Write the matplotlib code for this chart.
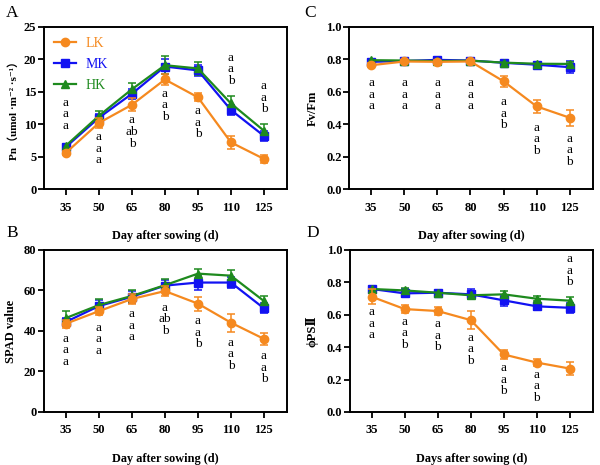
import matplotlib
matplotlib.use("Agg")
import matplotlib.pyplot as plt
from matplotlib.lines import Line2D
import numpy as np

days = [35, 50, 65, 80, 95, 110, 125]
treatments = ["LK", "MK", "HK"]
colors = {"LK": "#F5891F", "MK": "#1212F2", "HK": "#1E8A1E"}
markers = {"LK": "o", "MK": "s", "HK": "^"}

# Panel A: Pn
pn_LK = [5.6, 10.2, 13.0, 16.9, 14.15, 7.2, 4.65]
pn_MK = [6.5, 11.0, 14.7, 18.9, 18.3, 12.2, 8.2]
pn_HK = [6.7, 11.3, 15.4, 19.1, 18.6, 13.2, 9.0]
pn_LK_err = [0.3, 0.8, 1.0, 0.8, 0.6, 1.0, 0.6]
pn_MK_err = [0.3, 0.5, 0.8, 1.2, 0.8, 0.8, 0.8]
pn_HK_err = [0.3, 0.8, 1.0, 1.4, 1.0, 1.2, 1.0]
pn_letters = ["a\na\na", "a\na\na", "a\nab\nb", "a\na\nb", "a\na\nb", "a\na\nb", "a\na\nb"]
pn_letter_y = [11.5, 6.2, 8.8, 12.9, 10.2, 18.5, 14.1]

# Panel C: Fv/Fm
fv_LK = [0.764, 0.787, 0.785, 0.787, 0.665, 0.51, 0.44]
fv_MK = [0.785, 0.790, 0.797, 0.793, 0.779, 0.767, 0.752]
fv_HK = [0.795, 0.793, 0.790, 0.792, 0.780, 0.773, 0.772]
fv_LK_err = [0.012, 0.012, 0.012, 0.01, 0.035, 0.04, 0.05]
fv_MK_err = [0.012, 0.012, 0.015, 0.01, 0.012, 0.012, 0.035]
fv_HK_err = [0.008, 0.008, 0.008, 0.008, 0.008, 0.008, 0.01]
fv_letters = ["a\na\na", "a\na\na", "a\na\na", "a\na\na", "a\na\nb", "a\na\nb", "a\na\nb"]
fv_letter_y = [0.583, 0.583, 0.583, 0.583, 0.465, 0.308, 0.24]

# Panel B: SPAD
spad_LK = [43.6, 49.8, 55.8, 59.7, 53.5, 44.1, 36.1]
spad_MK = [44.5, 52.3, 56.9, 62.4, 63.9, 63.9, 51.2]
spad_HK = [46.4, 52.8, 57.3, 62.6, 68.3, 67.3, 54.8]
spad_LK_err = [2.0, 2.0, 2.5, 2.5, 3.5, 4.5, 3.0]
spad_MK_err = [2.0, 3.0, 3.0, 3.0, 3.5, 2.5, 2.5]
spad_HK_err = [3.5, 3.0, 3.0, 3.0, 2.5, 3.0, 2.5]
spad_letters = ["a\na\na", "a\na\na", "a\na\na", "a\nab\nb", "a\na\nb", "a\na\nb", "a\na\nb"]
spad_letter_y = [30.5, 36.0, 42.6, 45.7, 39.1, 28.5, 21.9]

# Panel D: phi PSII
ps_LK = [0.711, 0.635, 0.623, 0.567, 0.355, 0.305, 0.268]
ps_MK = [0.759, 0.732, 0.736, 0.726, 0.689, 0.652, 0.643]
ps_HK = [0.759, 0.750, 0.736, 0.720, 0.726, 0.699, 0.687]
ps_LK_err = [0.045, 0.025, 0.025, 0.055, 0.03, 0.02, 0.04]
ps_MK_err = [0.01, 0.025, 0.01, 0.03, 0.035, 0.02, 0.03]
ps_HK_err = [0.01, 0.015, 0.01, 0.015, 0.02, 0.015, 0.02]
ps_letters = ["a\na\na", "a\na\nb", "a\na\nb", "a\na\nb", "a\na\nb", "a\na\nb", "a\na\nb"]
ps_letter_y = [0.546, 0.485, 0.47, 0.386, 0.2, 0.16, 0.872]

SERIF = ["Liberation Serif", "DejaVu Serif", "Noto Sans CJK SC"]
plt.rcParams["font.family"] = SERIF

fig = plt.figure(figsize=(6.0, 4.65), dpi=100)

def msize(t):
    return 6 if t != "HK" else 5.5

def make_panel(rect, series, errs, letters, letter_y, ylim, yticks, ylabel,
               ylabel_x, xlabel, xlabel_y, fmt, legend=False, ylabel_size=9):
    ax = fig.add_axes(rect)
    for t, vals, err in zip(treatments, series, errs):
        ax.errorbar(days, vals, yerr=err, color=colors[t], marker=markers[t],
                    markersize=msize(t), lw=1.6, capsize=2.8,
                    elinewidth=1.1, capthick=1.1, label=t, zorder=3 if t == "LK" else 2)
    for d, s, y in zip(days, letters, letter_y):
        ax.text(d, y, s, ha="center", va="center", fontsize=9.5,
                linespacing=0.95, family=SERIF)
    ax.set_xlim(25, 135.5)
    ax.set_ylim(*ylim)
    ax.set_xticks(days)
    ax.set_xticklabels([str(d) for d in days])
    ax.set_yticks(yticks)
    ax.set_yticklabels([fmt.format(v) for v in yticks])
    for lab in ax.get_xticklabels() + ax.get_yticklabels():
        lab.set_fontweight("bold")
        lab.set_fontsize(9)
    ax.tick_params(direction="out", length=4, width=1.3, pad=1.5)
    ax.tick_params(axis="x", pad=5)
    for sp in ax.spines.values():
        sp.set_linewidth(1.4)
    ax.set_ylabel(ylabel, fontsize=ylabel_size, fontweight="bold", family=SERIF)
    ax.yaxis.set_label_coords(ylabel_x, 0.5)
    ax.set_xlabel(xlabel, fontsize=8.8, fontweight="bold", family=SERIF)
    ax.xaxis.set_label_coords(0.5, xlabel_y)
    if legend:
        handles = [Line2D([], [], color=colors[t], marker=markers[t],
                          markersize=msize(t), lw=1.6) for t in treatments]
        leg = ax.legend(handles, treatments, loc="upper left", frameon=False,
                        fontsize=10, handlelength=1.6, handletextpad=0.7,
                        labelspacing=0.6, borderaxespad=0.3, borderpad=0.4,
                        numpoints=1)
        for txt, t in zip(leg.get_texts(), treatments):
            txt.set_color(colors[t])
    return ax

make_panel([0.0733, 0.5935, 0.405, 0.3485],
           [pn_LK, pn_MK, pn_HK], [pn_LK_err, pn_MK_err, pn_HK_err],
           pn_letters, pn_letter_y, (0, 25), [0, 5, 10, 15, 20, 25],
           "Pn（umol ·m⁻² ·s⁻¹）", -0.105, "Day after sowing (d)", -0.25, "{:g}",
           legend=True, ylabel_size=8)
make_panel([0.582, 0.5935, 0.406, 0.3485],
           [fv_LK, fv_MK, fv_HK], [fv_LK_err, fv_MK_err, fv_HK_err],
           fv_letters, fv_letter_y, (0, 1.0), [0, 0.2, 0.4, 0.6, 0.8, 1.0],
           "Fv/Fm", -0.123, "Day after sowing (d)", -0.25, "{:.1f}")
make_panel([0.0733, 0.114, 0.405, 0.3485],
           [spad_LK, spad_MK, spad_HK], [spad_LK_err, spad_MK_err, spad_HK_err],
           spad_letters, spad_letter_y, (0, 80), [0, 20, 40, 60, 80],
           "SPAD value", -0.11, "Day after sowing (d)", -0.255, "{:g}")
make_panel([0.583, 0.114, 0.405, 0.3485],
           [ps_LK, ps_MK, ps_HK], [ps_LK_err, ps_MK_err, ps_HK_err],
           ps_letters, ps_letter_y, (0, 1.0), [0, 0.2, 0.4, 0.6, 0.8, 1.0],
           "ϕPSⅡ", -0.127, "Days after sowing (d)", -0.255, "{:.1f}")

for letter, x, y in [("A", 0.02, 0.972), ("C", 0.517, 0.972),
                     ("B", 0.02, 0.499), ("D", 0.522, 0.499)]:
    fig.text(x, y, letter, fontsize=12.5, ha="center", va="center", family=SERIF)

fig.savefig("out.png", dpi=100)
